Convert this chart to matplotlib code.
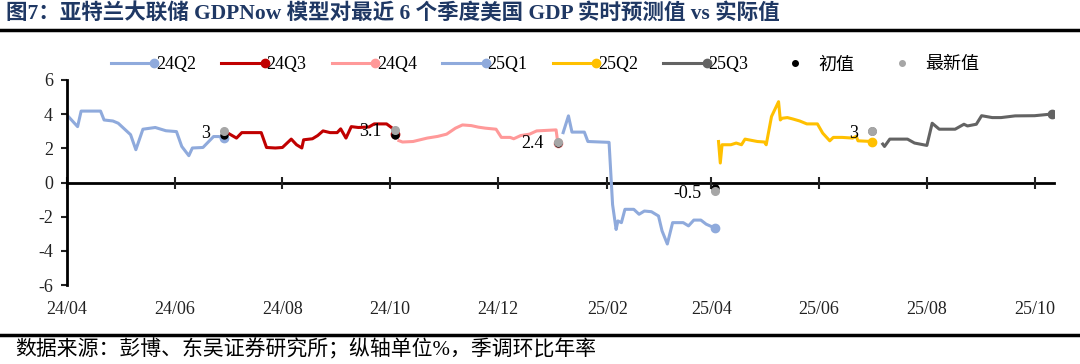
import matplotlib
matplotlib.use("Agg")
import matplotlib.pyplot as plt
import matplotlib.dates as mdates
from matplotlib.lines import Line2D
from matplotlib.legend_handler import HandlerLine2D
import pandas as pd

plt.rcParams["font.family"] = ["Liberation Serif", "Noto Sans CJK SC"]
plt.rcParams["axes.unicode_minus"] = False

# GDPNow 各季度实时预测路径
q24q2_dates = ["2024-04-01", "2024-04-07", "2024-04-09", "2024-04-20", "2024-04-22", "2024-04-27",
               "2024-04-30", "2024-05-07", "2024-05-10", "2024-05-14", "2024-05-21", "2024-05-27",
               "2024-06-02", "2024-06-05", "2024-06-09", "2024-06-11", "2024-06-17", "2024-06-23",
               "2024-06-26", "2024-06-29"]
q24q2_vals = [3.95, 3.27, 4.18, 4.18, 3.66, 3.60, 3.47, 2.80, 1.92, 3.12, 3.22, 3.03,
              2.98, 2.11, 1.57, 2.02, 2.05, 2.69, 2.69, 2.60]

q24q3_dates = ["2024-07-01", "2024-07-06", "2024-07-09", "2024-07-20", "2024-07-23", "2024-07-28",
               "2024-08-01", "2024-08-06", "2024-08-09", "2024-08-12", "2024-08-13", "2024-08-18",
               "2024-08-21", "2024-08-24", "2024-08-28", "2024-09-01", "2024-09-03", "2024-09-06",
               "2024-09-09", "2024-09-13", "2024-09-19", "2024-09-22", "2024-09-29", "2024-10-02",
               "2024-10-04"]
q24q3_vals = [2.90, 2.60, 2.92, 2.92, 2.05, 2.02, 2.05, 2.54, 2.21, 2.02, 2.50, 2.56,
              2.75, 3.02, 2.92, 2.92, 3.14, 2.60, 3.27, 3.22, 3.25, 3.43, 3.43, 3.20, 2.85]

q24q4_dates = ["2024-10-06", "2024-10-08", "2024-10-14", "2024-10-22", "2024-10-28", "2024-11-02",
               "2024-11-07", "2024-11-11", "2024-11-16", "2024-11-20", "2024-11-24", "2024-11-30",
               "2024-12-03", "2024-12-08", "2024-12-10", "2024-12-14", "2024-12-19", "2024-12-23",
               "2025-01-03", "2025-01-04"]
q24q4_vals = [2.45, 2.37, 2.40, 2.60, 2.70, 2.83, 3.18, 3.37, 3.33, 3.24, 3.18, 3.12,
              2.64, 2.64, 2.56, 2.75, 2.83, 3.02, 3.08, 2.30]

q25q1_dates = ["2025-01-07", "2025-01-10", "2025-01-12", "2025-01-19", "2025-01-21", "2025-02-02",
               "2025-02-04", "2025-02-06", "2025-02-07", "2025-02-09", "2025-02-11", "2025-02-16",
               "2025-02-19", "2025-02-22", "2025-02-26", "2025-03-02", "2025-03-04", "2025-03-07",
               "2025-03-10", "2025-03-16", "2025-03-19", "2025-03-22", "2025-03-26", "2025-03-29",
               "2025-04-03"]
q25q1_vals = [2.92, 3.90, 2.95, 2.95, 2.40, 2.35, -1.30, -2.75, -2.25, -2.35, -1.57, -1.57,
              -1.86, -1.67, -1.71, -1.96, -2.83, -3.60, -2.35, -2.35, -2.54, -2.20, -2.20, -2.44,
              -2.67]

q25q2_dates = ["2025-04-05", "2025-04-06", "2025-04-07", "2025-04-12", "2025-04-15", "2025-04-18",
               "2025-04-20", "2025-04-24", "2025-04-27", "2025-05-01", "2025-05-02", "2025-05-05",
               "2025-05-09", "2025-05-10", "2025-05-11", "2025-05-14", "2025-05-17", "2025-05-21",
               "2025-05-25", "2025-05-31", "2025-06-03", "2025-06-07", "2025-06-09", "2025-06-14",
               "2025-06-20", "2025-06-22", "2025-06-23", "2025-07-01"]
q25q2_vals = [2.40, 1.14, 2.21, 2.21, 2.31, 2.21, 2.54, 2.46, 2.40, 2.37, 2.21, 3.86,
              4.73, 3.66, 3.76, 3.80, 3.72, 3.60, 3.43, 3.43, 2.89, 2.44, 2.64, 2.64,
              2.60, 2.70, 2.44, 2.40]

q25q3_dates = ["2025-07-07", "2025-07-08", "2025-07-11", "2025-07-21", "2025-07-25", "2025-08-01",
               "2025-08-04", "2025-08-08", "2025-08-11", "2025-08-17", "2025-08-22", "2025-08-24",
               "2025-08-29", "2025-09-01", "2025-09-07", "2025-09-12", "2025-09-20", "2025-10-01",
               "2025-10-11"]
q25q3_vals = [2.25, 2.11, 2.54, 2.54, 2.31, 2.17, 3.47, 3.12, 3.12, 3.12, 3.41, 3.31,
              3.41, 3.91, 3.80, 3.80, 3.90, 3.91, 4.01]

quarters = ["24Q2", "24Q3", "24Q4", "25Q1", "25Q2", "25Q3"]
colors = ["#8FAADC", "#C00000", "#FF9999", "#8FAADC", "#FFC000", "#636363"]
series = [(q24q2_dates, q24q2_vals), (q24q3_dates, q24q3_vals), (q24q4_dates, q24q4_vals),
          (q25q1_dates, q25q1_vals), (q25q2_dates, q25q2_vals), (q25q3_dates, q25q3_vals)]

# 实际值：初值与最新值
actual_dates = ["2024-06-29", "2024-10-04", "2025-01-04", "2025-04-03", "2025-07-01"]
first_vals = [2.8, 2.8, 2.3, -0.3, 3.0]
latest_vals = [3.0, 3.1, 2.4, -0.5, 3.0]
latest_labels = ["3", "3.1", "2.4", "-0.5", "3"]

title = "图7：亚特兰大联储 GDPNow 模型对最近 6 个季度美国 GDP 实时预测值 vs 实际值"
source = "数据来源：彭博、东吴证券研究所；纵轴单位%，季调环比年率"


class EndDotHandler(HandlerLine2D):
    # 图例中圆点画在线段右端
    def create_artists(self, legend, orig_handle, xdescent, ydescent, width, height, fontsize, trans):
        arts = super().create_artists(legend, orig_handle, xdescent, ydescent, width, height, fontsize, trans)
        for a in arts:
            a.set_markevery([len(a.get_xdata()) - 1])
        return arts


W, H = 1080, 364
fig = plt.figure(figsize=(W / 100, H / 100), dpi=100)
ax = fig.add_axes([67 / W, 1 - 285 / H, (1054 - 67) / W, (285 - 80) / H])

handles = []
for name, c, (d, v) in zip(quarters, colors, series):
    d = pd.to_datetime(d)
    ax.plot(d, v, color=c, lw=2.2, solid_joinstyle="round", zorder=2)
    ax.plot(d[-1:], v[-1:], "o", color=c, ms=6, zorder=3)
    handles.append(Line2D([], [], color=c, lw=2.2, marker="o", ms=6))

ad = pd.to_datetime(actual_dates)
ax.plot(ad, first_vals, "o", color="black", ms=5, ls="none", zorder=4)
ax.plot(ad, latest_vals, "o", color="#A6A6A6", ms=5.5, ls="none", zorder=5)
for x, y, s in zip(ad, latest_vals, latest_labels):
    ax.annotate(s, (x, y), xytext=(-10, -1.5), textcoords="offset points",
                ha="right", va="center", fontsize=13, color="black", zorder=6)

first_h = Line2D([], [], ls="none", marker="o", color="black", ms=4)
latest_h = Line2D([], [], ls="none", marker="o", color="#A6A6A6", ms=4)
hmap = {h: EndDotHandler() for h in handles}
fig.legend(handles + [first_h, latest_h], quarters + ["初值", "最新值"],
           loc="center left", bbox_to_anchor=(111 / W, 1 - 65 / H), ncol=8, frameon=False,
           fontsize=13, numpoints=1, handlelength=2.4, handletextpad=0.1, columnspacing=1.4,
           borderpad=0, borderaxespad=0, handler_map=hmap)

ax.set_ylim(-6, 6)
ax.set_yticks(range(-6, 7, 2))
ax.set_xlim(pd.Timestamp("2024-04-01"), pd.Timestamp("2025-10-12"))
ax.xaxis.set_major_locator(mdates.MonthLocator(bymonth=[2, 4, 6, 8, 10, 12]))
ax.xaxis.set_major_formatter(mdates.DateFormatter("%y/%m"))

for s in ["top", "right"]:
    ax.spines[s].set_visible(False)
ax.spines["bottom"].set_position(("data", 0))
ax.spines["bottom"].set_linewidth(2)
ax.spines["left"].set_linewidth(2)
ax.tick_params(axis="x", direction="inout", length=8, width=1.5, pad=81, labelsize=13, colors="#222222")
ax.tick_params(axis="y", direction="out", length=4, width=1.5, pad=6, labelsize=13, colors="#222222")
ax.spines["bottom"].set_zorder(1)

fig.text(6 / W, 1 - 13 / H, title, fontsize=15.5, fontweight="bold", color="#1F3864", va="center")
fig.add_artist(Line2D([0, 1], [1 - 30 / H] * 2, transform=fig.transFigure, color="black", lw=2.5))
fig.add_artist(Line2D([0, 1], [1 - 335 / H] * 2, transform=fig.transFigure, color="black", lw=2.5))
fig.text(15 / W, 1 - 350 / H, source, fontsize=15, color="black", va="center")

fig.savefig("out.png", dpi=100)
